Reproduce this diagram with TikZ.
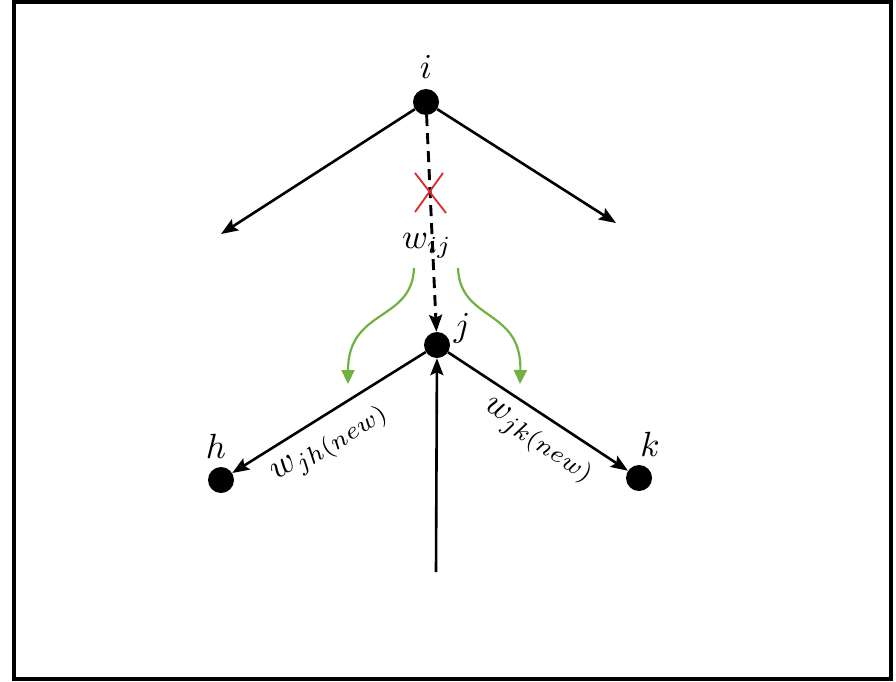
\documentclass[tikz,border=0pt]{standalone}
\usetikzlibrary{arrows.meta}
\definecolor{leafgreen}{RGB}{112,178,64}
\definecolor{xred}{RGB}{220,40,40}
\begin{document}
\begin{tikzpicture}[x=1pt,y=-1pt,
  dot/.style={circle,fill=black,inner sep=0pt,minimum size=26pt},
  lbl/.style={scale=3.5,inner sep=0pt},
  edge/.style={line width=2.6pt,-{Stealth[length=17pt,width=13pt,inset=3pt]}},
  gcurve/.style={leafgreen,line width=2.2pt,-{Triangle[length=14pt,width=13pt]}}]
\useasboundingbox (0,0) rectangle (896,681);
\draw[line width=3.2pt] (14,2) rectangle (891,679);
% nodes
\node[dot] (i) at (426,102) {};
\node[dot] (j) at (437,345) {};
\node[dot] (h) at (221,480) {};
\node[dot] (k) at (639,478) {};
\node[lbl] (li) at (426,67) {$i$};
\node[lbl] (lj) at (462,328) {$j$};
\node[lbl] (lh) at (216,446) {$h$};
\node[lbl] (lk) at (650,444) {$k$};
\coordinate (al) at (221,234);
\coordinate (ar) at (616,223);
\coordinate (vb) at (436,572);
% arrows from i
\draw[edge] (i) -- (al);
\draw[edge] (i) -- (ar);
\draw[edge,dash pattern=on 11pt off 7pt,line width=2.9pt] (i) -- (j);
% red cross
\coordinate (x1) at (415,173); \coordinate (x2) at (446,213);
\coordinate (x3) at (443,173); \coordinate (x4) at (415,212);
\draw[xred,line width=1.8pt] (x1) -- (x2) (x3) -- (x4);
\node[lbl] (wij) at (427,246) {$w_{ij}$};
% green curves
\coordinate (gl) at (414,268); \coordinate (glt) at (348,384);
\coordinate (gr) at (458,268); \coordinate (grt) at (520,384);
\draw[gcurve] (gl) .. controls (412,322) and (348,308) .. (glt);
\draw[gcurve] (gr) .. controls (460,322) and (522,308) .. (grt);
% lower edges
\draw[edge] (j) -- (h);
\draw[edge] (j) -- (k);
\draw[edge] (vb) -- (j);
\node[lbl,rotate=32] (wjh) at (331,445) {$w_{jh(new)}$};
\node[lbl,rotate=-33] (wjk) at (538,442) {$w_{jk(new)}$};
\end{tikzpicture}
\end{document}
